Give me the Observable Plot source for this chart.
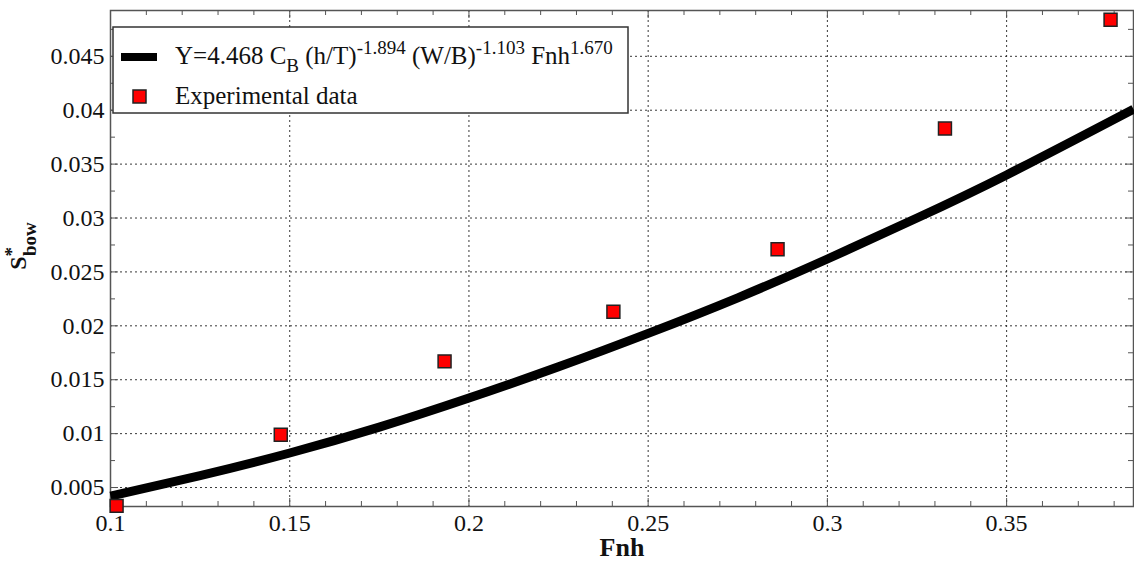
<!DOCTYPE html>
<html>
<head>
<meta charset="utf-8">
<script src="https://cdn.jsdelivr.net/npm/d3@7"></script>
<script src="https://cdn.jsdelivr.net/npm/@observablehq/plot@0.6"></script>
<style>
  html, body { margin: 0; padding: 0; background: #fff; }
  #chart svg { display: block; }
  #chart svg text { font-family: 'Liberation Serif', 'Times New Roman', serif; }
</style>
</head>
<body>
<div id="chart"></div>
<script>
// Fitted correlation curve
const curveFnh = [0.1, 0.125, 0.15, 0.175, 0.2, 0.225, 0.25, 0.275, 0.3, 0.325, 0.35, 0.3854];
const curveS   = [0.0042, 0.0061, 0.0082, 0.0106, 0.0133, 0.0162, 0.0193, 0.0226, 0.0262, 0.0300, 0.0340, 0.0401];

// Experimental data points
const expFnh = [0.1017, 0.1475, 0.1932, 0.2403, 0.2861, 0.3328, 0.3790];
const expS   = [0.0033, 0.0099, 0.0167, 0.0213, 0.0271, 0.0383, 0.0484];

// Axis ticks
const xTicks = [0.1, 0.15, 0.2, 0.25, 0.3, 0.35];
const xTickLabels = ["0.1", "0.15", "0.2", "0.25", "0.3", "0.35"];
const xMinor = [0.11,0.12,0.13,0.14,0.16,0.17,0.18,0.19,0.21,0.22,0.23,0.24,0.26,0.27,0.28,0.29,0.31,0.32,0.33,0.34,0.36,0.37,0.38];
const yTicks = [0.005, 0.01, 0.015, 0.02, 0.025, 0.03, 0.035, 0.04, 0.045];
const yTickLabels = ["0.005", "0.01", "0.015", "0.02", "0.025", "0.03", "0.035", "0.04", "0.045"];
const yMinor = [0.0075, 0.0125, 0.0175, 0.0225, 0.0275, 0.0325, 0.0375, 0.0425, 0.0475];

const xDomain = [0.1, 0.3854];
const yDomain = [0.00324, 0.04925];

const W = 1134, H = 568, mL = 110, mR = 1, mT = 10, mB = 62;
const pw = W - mL - mR, ph = H - mT - mB;

const curve = curveFnh.map((x, i) => ({x, y: curveS[i]}));
const exp = expFnh.map((x, i) => ({x, y: expS[i]}));

const axisColor = "#555";
const serif = "'Liberation Serif', 'Times New Roman', serif";
const minorLen = 5, majorLen = 8;

const chart = Plot.plot({
  width: W, height: H,
  marginLeft: mL, marginRight: mR, marginTop: mT, marginBottom: mB,
  style: {fontFamily: serif, background: "#fff", color: "#111"},
  x: {domain: xDomain, label: null},
  y: {domain: yDomain, label: null},
  marks: [
    Plot.gridX(xTicks, {stroke: "#222", strokeOpacity: 0.9, strokeDasharray: "2,3", strokeWidth: 1}),
    Plot.gridY(yTicks, {stroke: "#222", strokeOpacity: 0.9, strokeDasharray: "2,3", strokeWidth: 1}),
    // bottom & top ticks (inward)
    Plot.ruleX(xMinor, {x: d => d, insetTop: ph - minorLen, stroke: axisColor}),
    Plot.ruleX(xMinor, {x: d => d, insetBottom: ph - minorLen, stroke: axisColor}),
    Plot.ruleX(xTicks, {x: d => d, insetTop: ph - majorLen, stroke: axisColor}),
    Plot.ruleX(xTicks, {x: d => d, insetBottom: ph - majorLen, stroke: axisColor}),
    // left & right ticks (inward)
    Plot.ruleY(yMinor, {y: d => d, insetRight: pw - minorLen, stroke: axisColor}),
    Plot.ruleY(yMinor, {y: d => d, insetLeft: pw - minorLen, stroke: axisColor}),
    Plot.ruleY(yTicks, {y: d => d, insetRight: pw - majorLen, stroke: axisColor}),
    Plot.ruleY(yTicks, {y: d => d, insetLeft: pw - majorLen, stroke: axisColor}),
    Plot.frame({stroke: axisColor, strokeWidth: 1.5}),
    Plot.line(curve, {x: "x", y: "y", stroke: "#000", strokeWidth: 9, curve: "natural", strokeLinecap: "butt"}),
    Plot.dot(exp, {x: "x", y: "y", symbol: "square", r: 7.3, fill: "#ff0000", stroke: "#222", strokeWidth: 1.5}),
    Plot.axisX(xTicks, {tickSize: 0, tickPadding: 7, fontSize: 24, fontFamily: serif, fill: "#111", tickFormat: (d, i) => xTickLabels[i], label: null}),
    Plot.axisY(yTicks, {tickSize: 0, tickPadding: 6, fontSize: 24, fontFamily: serif, fill: "#111", tickFormat: (d, i) => yTickLabels[i], label: null}),
    Plot.text(["Fnh"], {text: d => d, frameAnchor: "bottom", dy: 49, fontSize: 26, fontFamily: serif, fontWeight: "bold", fill: "#111"})
  ]
});

document.getElementById("chart").appendChild(chart);

const svg = d3.select(chart);
svg.attr("font-variant", null);
svg.selectAll("g").attr("font-variant", null);

// Y-axis label S*_bow
const yl = svg.append("text")
  .attr("transform", "translate(26,246) rotate(-90)")
  .attr("text-anchor", "middle")
  .attr("font-weight", "bold")
  .attr("fill", "#111");
yl.append("tspan").attr("font-size", 24).text("S");
yl.append("tspan").attr("font-size", 19).attr("dy", -8).text("*");
yl.append("tspan").attr("font-size", 19).attr("dx", -9).attr("dy", 18).text("bow");

// Legend
const lg = svg.append("g").attr("text-anchor", "start");
lg.append("rect").attr("x", 113).attr("y", 27).attr("width", 515).attr("height", 86)
  .attr("fill", "#fff").attr("stroke", "#333").attr("stroke-width", 1.5);
lg.append("line").attr("x1", 121).attr("x2", 157).attr("y1", 57).attr("y2", 57)
  .attr("stroke", "#000").attr("stroke-width", 8);
const t1 = lg.append("text").attr("x", 175).attr("y", 64).attr("text-anchor", "start")
  .attr("font-size", 25).attr("fill", "#111");
t1.append("tspan").text("Y=4.468 C");
t1.append("tspan").attr("font-size", 19).attr("dy", 8).text("B");
t1.append("tspan").attr("dy", -8).text(" (h/T)");
t1.append("tspan").attr("font-size", 19).attr("dy", -10).text("-1.894");
t1.append("tspan").attr("dy", 10).text(" (W/B)");
t1.append("tspan").attr("font-size", 19).attr("dy", -10).text("-1.103");
t1.append("tspan").attr("dy", 10).text(" Fnh");
t1.append("tspan").attr("font-size", 19).attr("dy", -10).text("1.670");
lg.append("rect").attr("x", 133).attr("y", 90).attr("width", 13).attr("height", 13)
  .attr("fill", "#ff0000").attr("stroke", "#222").attr("stroke-width", 1.5);
lg.append("text").attr("x", 175).attr("y", 104).attr("text-anchor", "start")
  .attr("font-size", 25).attr("fill", "#111")
  .text("Experimental data");

// force the serif face on every text element
svg.selectAll("text, tspan").style("font-family", serif);
</script>
</body>
</html>
